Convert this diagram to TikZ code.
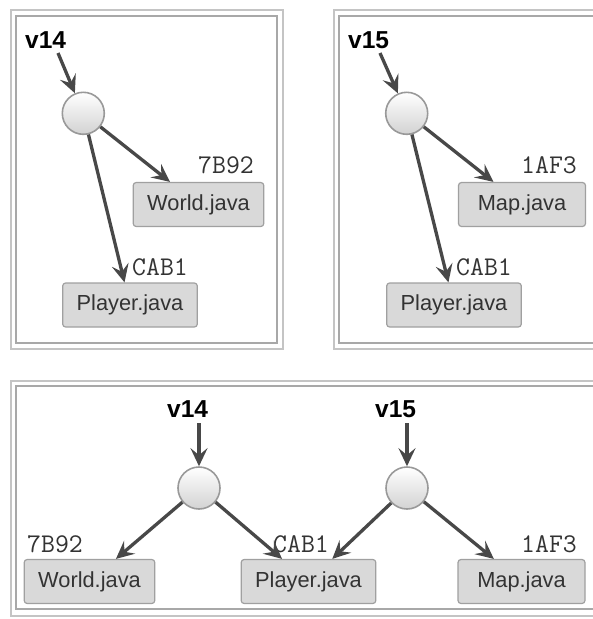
\documentclass[tikz,border=0pt]{standalone}
\usepackage{fontspec}
\setmainfont{Liberation Sans}
\usetikzlibrary{arrows.meta}

\definecolor{boxfill}{HTML}{D9D9D9}
\definecolor{boxline}{HTML}{A0A0A0}
\definecolor{arrowgray}{HTML}{484848}
\definecolor{frameout}{HTML}{C4C4C4}
\definecolor{framein}{HTML}{A8A8A8}
\definecolor{textgray}{HTML}{333333}

\tikzset{
	outerframe/.style={draw=frameout, line width=2pt},
	innerframe/.style={draw=framein, line width=2pt},
	file/.style={draw=boxline, fill=boxfill, line width=1.2pt, rounded corners=3pt, minimum width=127pt, minimum height=44pt, inner xsep=14pt, inner ysep=0pt, text=textgray, font=\fontsize{21.8}{26}\selectfont},
	commit/.style={circle, draw=gray!80, line width=1.6pt, minimum size=42pt, inner sep=0pt, top color=white, bottom color=gray!35},
	hash/.style={anchor=base west, inner sep=0pt, text=textgray, font=\ttfamily\fontsize{27}{30}\selectfont},
	tag/.style={anchor=base west, inner sep=0pt, font=\bfseries\fontsize{24.5}{28}\selectfont},
	arr/.style={draw=arrowgray, line width=3.3pt, -{Stealth[length=18pt, width=17pt, inset=7pt]}},
}

\begin{document}
\begin{tikzpicture}[x=1pt, y=-1pt]
			%%%%% START %%%%%
			\clip (0, 0) rectangle (593, 619);
			
			\draw[outerframe] (10.5, 10) rectangle (282.5, 348.5);
			\draw[innerframe] (16, 16) rectangle (277, 342.5);
			\draw[outerframe] (333.5, 10) rectangle (620, 348.5);
			\draw[innerframe] (339, 16) rectangle (620, 342.5);
			\draw[outerframe] (10.5, 380.5) rectangle (620, 615.5);
			\draw[innerframe] (15.5, 386) rectangle (620, 608.5);
			
			% v14 alone
			\node[tag] (v14a) at (25, 48) {v14};
			\coordinate (t14a) at (58, 53);
			\node[commit] (c14a) at (83.3, 113.3) {};
			\node[file] (worlda) at (198.5, 204.5) {World.java};
			\node[file] (playera) at (130, 305) {Player.java};
			\node[hash] (h7b92a) at (198, 173) {7B92};
			\node[hash] (hcab1a) at (132, 275) {CAB1};
			\draw[arr] (t14a) -- (c14a);
			\draw[arr] (c14a) -- (worlda);
			\draw[arr] (c14a) -- (playera);
			
			% v15 alone
			\node[tag] (v15b) at (348, 48) {v15};
			\coordinate (t15b) at (380, 53);
			\node[commit] (c15b) at (406.7, 113.3) {};
			\node[file] (mapb) at (522, 204.5) {Map.java};
			\node[file] (playerb) at (454, 305) {Player.java};
			\node[hash] (h1af3b) at (521, 173) {1AF3};
			\node[hash] (hcab1b) at (456, 275) {CAB1};
			\draw[arr] (t15b) -- (c15b);
			\draw[arr] (c15b) -- (mapb);
			\draw[arr] (c15b) -- (playerb);
			
			% both, sharing Player.java
			\node[tag] (v14c) at (167, 417) {v14};
			\coordinate (t14c) at (199, 423);
			\node[commit] (c14c) at (199, 488) {};
			\node[tag] (v15c) at (375, 417) {v15};
			\coordinate (t15c) at (407, 423);
			\node[commit] (c15c) at (407, 488) {};
			\node[file] (worldc) at (89.5, 581.5) {World.java};
			\node[file] (playerc) at (308.5, 581.5) {Player.java};
			\node[file] (mapc) at (521.5, 581.5) {Map.java};
			\node[hash] (h7b92c) at (27, 552) {7B92};
			\node[hash] (hcab1c) at (273, 552) {CAB1};
			\node[hash] (h1af3c) at (521, 552) {1AF3};
			\draw[arr] (t14c) -- (c14c);
			\draw[arr] (t15c) -- (c15c);
			\draw[arr] (c14c) -- (worldc);
			\draw[arr] (c14c) -- (playerc);
			\draw[arr] (c15c) -- (playerc);
			\draw[arr] (c15c) -- (mapc);
			
			%%%%% END %%%%%
\end{tikzpicture}
\end{document}
